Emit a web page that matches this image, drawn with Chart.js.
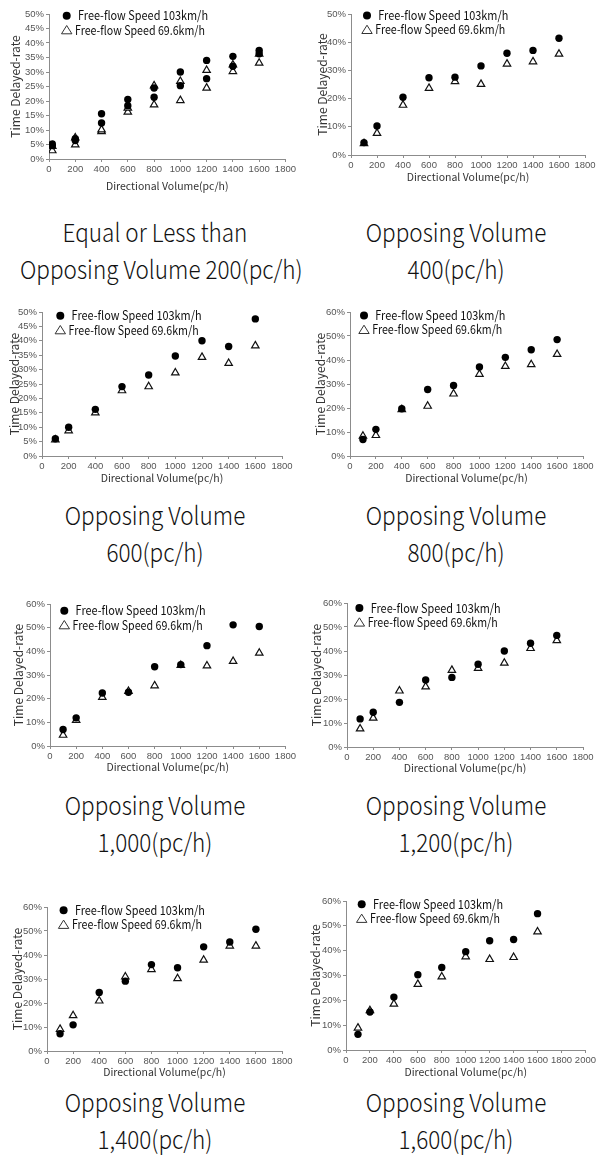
<!DOCTYPE html>
<html lang="en">
<head>
<meta charset="UTF-8">
<title>Time Delayed-rate vs Directional Volume</title>
<script src="https://cdn.jsdelivr.net/npm/chart.js"></script>
<style>
  body { margin: 0; background: #fff; }
  #page { position: relative; width: 598px; height: 1155px; overflow: hidden; background: #fff; }
  #page canvas { position: absolute; }
  .caption {
    position: absolute;
    width: 300px;
    text-align: center;
    font-family: "Noto Sans CJK KR", sans-serif;
    font-weight: 300;
    font-size: 25px;
    line-height: 37px;
    color: #111;
    white-space: nowrap;
    transform: scaleX(0.9);
    transform-origin: 50% 50%;
  }
</style>
</head>
<body>
<div id="page"></div>

<script>
// ---- data (y in %) ----
const volumes = [100, 200, 400, 600, 800, 1000, 1200, 1400, 1600];
const volumesLow = [25, 200, 400, 600, 800, 1000, 1200, 1400, 1600];

const legendLabels = ['Free-flow Speed 103km/h', 'Free-flow Speed 69.6km/h'];
const yTitle = 'Time Delayed-rate';
const xTitle = 'Directional Volume(pc/h)';

// panel 1 has two observations per volume for each speed
const p1Fast1 = [5.2, 7.0, 15.6, 20.5, 24.5, 30.0, 34.0, 35.4, 37.4];
const p1Fast2 = [4.6, 6.4, 12.4, 18.4, 21.3, 25.3, 27.7, 32.0, 36.3];
const p1Slow1 = [2.9, 4.9, 9.5, 16.2, 18.7, 20.2, 24.5, 30.2, 33.1];
const p1Slow2 = [4.4, 7.3, 10.1, 17.6, 25.3, 26.8, 30.6, 32.5, 36.2];

const p2Fast = [4.4, 10.3, 20.5, 27.4, 27.6, 31.6, 36.1, 37.1, 41.4];
const p2Slow = [4.1, 7.7, 17.7, 23.7, 26.1, 25.1, 32.3, 33.1, 35.8];
const p3Fast = [6.0, 10.0, 16.2, 24.1, 28.1, 34.7, 40.0, 38.0, 47.6];
const p3Slow = [5.6, 8.8, 15.0, 22.7, 24.1, 28.9, 34.3, 32.2, 38.3];
const p4Fast = [6.9, 11.1, 19.7, 27.7, 29.4, 37.1, 41.1, 44.3, 48.5];
const p4Slow = [8.3, 8.6, 19.4, 20.8, 25.9, 34.1, 37.4, 38.1, 42.4];
const p5Fast = [7.0, 11.9, 22.4, 22.7, 33.5, 34.4, 42.4, 51.2, 50.5];
const p5Slow = [4.6, 10.9, 20.6, 23.1, 25.5, 34.1, 33.9, 35.8, 39.3];
const p6Fast = [11.7, 14.5, 18.6, 27.9, 29.0, 34.5, 40.0, 43.2, 46.5];
const p6Slow = [7.6, 12.1, 23.4, 25.1, 32.0, 32.8, 35.0, 41.1, 44.4];
const p7Fast = [7.2, 10.9, 24.4, 29.1, 36.0, 34.7, 43.4, 45.4, 50.7];
const p7Slow = [9.1, 14.8, 20.9, 30.9, 34.0, 30.2, 37.9, 43.8, 43.8];
const p8Fast = [6.3, 15.3, 21.3, 30.3, 33.2, 39.6, 44.0, 44.5, 54.9];
const p8Slow = [8.9, 15.9, 18.5, 26.5, 29.5, 37.6, 36.5, 37.3, 47.6];

const captions = [
  ['Equal or Less than', 'Opposing Volume 200(pc/h)'],
  ['Opposing Volume', '400(pc/h)'],
  ['Opposing Volume', '600(pc/h)'],
  ['Opposing Volume', '800(pc/h)'],
  ['Opposing Volume', '1,000(pc/h)'],
  ['Opposing Volume', '1,200(pc/h)'],
  ['Opposing Volume', '1,400(pc/h)'],
  ['Opposing Volume', '1,600(pc/h)']
];

const panelSeries = [
  { fast: [[volumesLow, p1Fast1], [volumesLow, p1Fast2]], slow: [[volumesLow, p1Slow1], [volumesLow, p1Slow2]], yMax: 50, yStep: 5, xMax: 1800 },
  { fast: [[volumes, p2Fast]], slow: [[volumes, p2Slow]], yMax: 50, yStep: 5, xMax: 1800 },
  { fast: [[volumes, p3Fast]], slow: [[volumes, p3Slow]], yMax: 50, yStep: 5, xMax: 1800 },
  { fast: [[volumes, p4Fast]], slow: [[volumes, p4Slow]], yMax: 60, yStep: 10, xMax: 1800 },
  { fast: [[volumes, p5Fast]], slow: [[volumes, p5Slow]], yMax: 60, yStep: 10, xMax: 1800 },
  { fast: [[volumes, p6Fast]], slow: [[volumes, p6Slow]], yMax: 60, yStep: 10, xMax: 1800 },
  { fast: [[volumes, p7Fast]], slow: [[volumes, p7Slow]], yMax: 60, yStep: 10, xMax: 1800 },
  { fast: [[volumes, p8Fast]], slow: [[volumes, p8Slow]], yMax: 60, yStep: 10, xMax: 2000 }
];

// ---- layout (page pixels): plot area [left, right, top, bottom] ----
const layouts = [
  { left: 0,   width: 298, area: [49, 287, 14, 159],   yTitleX: 15,  xTitleY: 186,  leg: [17.7, 1.7], cap: [155, 231] },
  { left: 298, width: 300, area: [351, 585, 14, 155],  yTitleX: 322, xTitleY: 177,  leg: [16, 1.4],   cap: [456, 231] },
  { left: 0,   width: 298, area: [42, 282, 312, 456],  yTitleX: 14,  xTitleY: 478,  leg: [18.3, 3.7], cap: [155, 514] },
  { left: 298, width: 300, area: [350, 583, 312, 456], yTitleX: 320, xTitleY: 478,  leg: [14, 3.4],   cap: [456, 514] },
  { left: 0,   width: 298, area: [50, 287, 604, 746],  yTitleX: 18,  xTitleY: 767,  leg: [14.3, 6.7], cap: [155, 804] },
  { left: 298, width: 300, area: [347, 583, 603, 747], yTitleX: 316, xTitleY: 768,  leg: [12.4, 5],   cap: [456, 804] },
  { left: 0,   width: 298, area: [47, 282, 907, 1051], yTitleX: 17,  xTitleY: 1072, leg: [16.6, 3.3], cap: [155, 1101] },
  { left: 298, width: 300, area: [346, 590, 901, 1050], yTitleX: 315, xTitleY: 1072, leg: [15.7, 3.3], cap: [456, 1101] }
];

const tickFont = { family: '"Liberation Sans Narrow", "Liberation Sans", sans-serif', size: 9.5 };
const yTitleFont = { family: '"Noto Sans CJK KR", sans-serif', size: 12 };
const xTitleFont = { family: '"Noto Sans CJK KR", sans-serif', size: 10.5 };
const axisColor = '#8c8c8c';

const cornerLegend = {
  id: 'cornerLegend',
  afterDatasetsDraw(chart, args, opts) {
    const ctx = chart.ctx;
    const a = chart.chartArea;
    const x = a.left + opts.dx;
    const y = a.top + opts.dy;
    const y2 = y + 14.3;
    ctx.save();
    ctx.fillStyle = '#000';
    ctx.beginPath();
    ctx.arc(x, y, 4, 0, Math.PI * 2);
    ctx.fill();
    ctx.beginPath();
    ctx.moveTo(x, y2 - 4.5);
    ctx.lineTo(x + 5.2, y2 + 3.8);
    ctx.lineTo(x - 5.2, y2 + 3.8);
    ctx.closePath();
    ctx.fillStyle = '#fff';
    ctx.fill();
    ctx.strokeStyle = '#333';
    ctx.lineWidth = 1;
    ctx.stroke();
    ctx.font = '12.5px "Noto Sans CJK KR", sans-serif';
    ctx.fillStyle = '#111';
    ctx.textBaseline = 'middle';
    ctx.fillText(chart.data.datasets[0].label, x + 11.3, y, 130);
    ctx.fillText(chart.data.datasets[1].label, x + 8.3, y2, 130);
    ctx.restore();
  }
};

function toPoints(pairs) {
  const pts = [];
  pairs.forEach(([xs, ys]) => xs.forEach((v, i) => pts.push({ x: v, y: ys[i] })));
  return pts;
}

const page = document.getElementById('page');

layouts.forEach((L, idx) => {
  const s = panelSeries[idx];
  const top = L.area[2] - 12;
  const height = Math.round(L.xTitleY + 10 - top);
  const canvas = document.createElement('canvas');
  canvas.width = L.width;
  canvas.height = height;
  canvas.style.left = L.left + 'px';
  canvas.style.top = top + 'px';
  canvas.style.width = L.width + 'px';
  canvas.style.height = height + 'px';
  page.appendChild(canvas);

  const yLH = yTitleFont.size * 1.2;
  const xLH = xTitleFont.size * 1.2;

  new Chart(canvas.getContext('2d'), {
    type: 'scatter',
    data: {
      datasets: [
        {
          label: legendLabels[0],
          data: toPoints(s.fast),
          pointStyle: 'circle',
          pointRadius: 3.7,
          backgroundColor: '#000',
          borderColor: '#000',
          borderWidth: 0
        },
        {
          label: legendLabels[1],
          data: toPoints(s.slow),
          pointStyle: 'triangle',
          pointRadius: 4.3,
          backgroundColor: '#fff',
          borderColor: '#111',
          borderWidth: 1.2
        }
      ]
    },
    options: {
      responsive: false,
      animation: false,
      devicePixelRatio: 1,
      layout: {
        padding: { top: L.area[2] - top, right: L.left + L.width - L.area[1], bottom: 0, left: 0 }
      },
      plugins: {
        legend: { display: false },
        tooltip: { enabled: false },
        cornerLegend: { dx: L.leg[0], dy: L.leg[1] }
      },
      scales: {
        x: {
          type: 'linear',
          min: 0,
          max: s.xMax,
          afterFit: sc => { sc.height = height - (L.area[3] - top); },
          ticks: { stepSize: 200, autoSkip: false, maxRotation: 0, font: tickFont, color: '#555', padding: 2, callback: v => String(v) },
          grid: { display: true, drawOnChartArea: false, drawTicks: true, tickLength: 3, color: axisColor },
          border: { display: true, color: axisColor, width: 1 },
          title: {
            display: true, text: xTitle, font: xTitleFont, color: '#333',
            padding: { top: 0, bottom: (top + height) - L.xTitleY - xLH / 2 }
          }
        },
        y: {
          min: 0,
          max: s.yMax,
          afterFit: sc => { sc.width = L.area[0] - L.left; },
          ticks: { stepSize: s.yStep, font: tickFont, color: '#555', padding: 2, callback: v => v + '%' },
          grid: { display: true, drawOnChartArea: false, drawTicks: true, tickLength: 3, color: axisColor },
          border: { display: true, color: axisColor, width: 1 },
          title: {
            display: true, text: yTitle, font: yTitleFont, color: '#333',
            padding: { top: L.yTitleX - L.left - yLH / 2, bottom: 0 }
          }
        }
      }
    },
    plugins: [cornerLegend]
  });

  const cap = document.createElement('div');
  cap.className = 'caption';
  cap.style.left = (L.cap[0] - 150) + 'px';
  cap.style.top = (L.cap[1] - 18.5) + 'px';
  cap.innerHTML = captions[idx][0] + '<br>' + captions[idx][1];
  page.appendChild(cap);
});
</script>
</body>
</html>
